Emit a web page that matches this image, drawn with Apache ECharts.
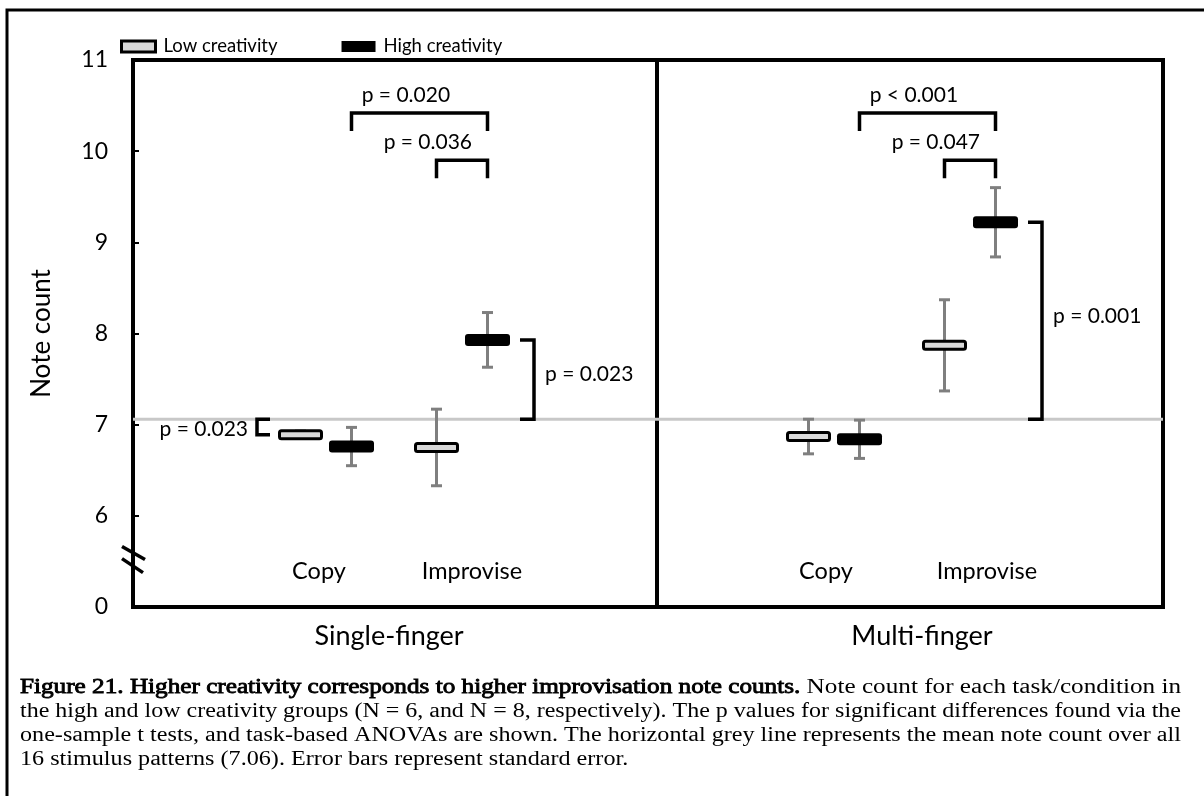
<!DOCTYPE html>
<html>
<head>
<meta charset="utf-8">
<script src="https://cdn.jsdelivr.net/npm/echarts@6/dist/echarts.min.js"></script>
<style>
  html, body { margin: 0; padding: 0; background: #fff; }
  #chart { width: 1204px; height: 796px; }
</style>
</head>
<body>
<div id="chart"></div>
<script>
// ---- data ----
const panels = ['Single-finger', 'Multi-finger'];
const conditions = ['Copy', 'Improvise'];
const groups = ['Low creativity', 'High creativity'];

const singleLowMean = [6.89, 6.75];
const singleLowSE = [0.04, 0.42];
const singleHighMean = [6.76, 7.93];
const singleHighSE = [0.21, 0.30];

const multiLowMean = [6.87, 7.87];
const multiLowSE = [0.19, 0.50];
const multiHighMean = [6.84, 9.22];
const multiHighSE = [0.21, 0.38];

const grandMean = 7.06;            // mean note count over all 16 stimulus patterns
const yTickLabels = ['0', '6', '7', '8', '9', '10', '11'];  // axis broken below 6

const singleTaskP = ['p = 0.020', 'p = 0.036'];
const multiTaskP = ['p < 0.001', 'p = 0.047'];
const singleOneSampleP = ['p = 0.023', 'p = 0.023'];
const multiOneSampleP = ['p = 0.001'];

const captionLines = [
  ['Figure 21. Higher creativity corresponds to higher improvisation note counts.', ' Note count for each task/condition in'],
  ['', 'the high and low creativity groups (N = 6, and N = 8, respectively). The p values for significant differences found via the'],
  ['', 'one-sample t tests, and task-based ANOVAs are shown. The horizontal grey line represents the mean note count over all'],
  ['', '16 stimulus patterns (7.06). Error bars represent standard error.']
];

// ---- layout / style ----
const FONT = 'Lato';
const SERIF = 'Liberation Serif';
const PLOT_LEFT = 133, PLOT_TOP = 60, PLOT_H = 547;
const Y_MIN = 5, Y_MAX = 11;
const BREAK_AT = 5.52;                // where the axis-break marks sit
const GROUP_OFFSET = [-25.5, 25.5];   // low / high marker offset from condition centre (px)
const BRACKET_TOP = [10.42, 9.90];    // heights of the task-comparison brackets
const BRACKET_LEG = 18;               // px
const LABEL_AT = [0.4, -0.17];        // label position along each bracket

const chart = echarts.init(document.getElementById('chart'), null, { renderer: 'canvas' });

function markSeries(name, axisIdx, means, ses, groupIdx) {
  const isLow = groupIdx === 0;
  return {
    type: 'custom',
    name: name,
    xAxisIndex: axisIdx,
    yAxisIndex: axisIdx,
    z: 4,
    itemStyle: { color: isLow ? '#d9d9d9' : '#000' },
    data: means.map((m, i) => [i, m, ses[i]]),
    encode: { x: 0, y: 1 },
    renderItem: function (params, api) {
      const c = api.coord([api.value(0), api.value(1)]);
      const top = api.coord([api.value(0), api.value(1) + api.value(2)])[1];
      const bot = api.coord([api.value(0), api.value(1) - api.value(2)])[1];
      const x = c[0] + GROUP_OFFSET[groupIdx];
      const err = { stroke: '#7f7f7f', lineWidth: 3 };
      return {
        type: 'group',
        children: [
          { type: 'line', shape: { x1: x, y1: top, x2: x, y2: bot }, style: err },
          { type: 'line', shape: { x1: x - 5.5, y1: top, x2: x + 5.5, y2: top }, style: err },
          { type: 'line', shape: { x1: x - 5.5, y1: bot, x2: x + 5.5, y2: bot }, style: err },
          isLow
            ? { type: 'rect', shape: { x: x - 21, y: c[1] - 4, width: 42, height: 8, r: 2 },
                style: { fill: '#d9d9d9', stroke: '#000', lineWidth: 3 } }
            : { type: 'rect', shape: { x: x - 22.5, y: c[1] - 6, width: 45, height: 12, r: 3 },
                style: { fill: '#000' } }
        ]
      };
    }
  };
}

// bracket annotations for one panel
function annotationSeries(axisIdx, low, high, taskPairs, oneSample) {
  const means = [low, high];
  return {
    type: 'custom',
    xAxisIndex: axisIdx,
    yAxisIndex: axisIdx,
    z: 5,
    silent: true,
    data: [[0, grandMean]],
    renderItem: function (params, api) {
      const kids = [];
      const line = { stroke: '#000', lineWidth: 3.5, fill: 'none' };
      const text = (x, y, s, align) => ({
        type: 'text', x: x, y: y,
        style: { text: s, fill: '#000', font: '21px ' + FONT, textAlign: align, textVerticalAlign: 'middle' }
      });
      const markX = (g, i) => api.coord([i, 0])[0] + GROUP_OFFSET[g];
      // task-based comparisons (horizontal brackets)
      taskPairs.forEach((p, k) => {
        const x1 = markX(p.from[0], p.from[1]);
        const x2 = markX(p.to[0], p.to[1]);
        const yT = api.coord([0, BRACKET_TOP[k]])[1];
        kids.push({ type: 'polyline', shape: { points: [[x1, yT + BRACKET_LEG], [x1, yT], [x2, yT], [x2, yT + BRACKET_LEG]] }, style: line });
        kids.push(text(x1 + (x2 - x1) * LABEL_AT[k], yT - 18, p.label, 'center'));
      });
      // one-sample comparisons against the grand mean (vertical brackets)
      const yRef = api.coord([0, grandMean])[1];
      oneSample.forEach(o => {
        const g = o.mark[0], i = o.mark[1];
        const yM = api.coord([i, means[g][i]])[1];
        const cx = markX(g, i);
        if (o.side === 'right') {
          const xa = cx + 22.5 + 10, xv = xa + 14;
          kids.push({ type: 'polyline', shape: { points: [[xa, yM], [xv, yM], [xv, yRef], [xa, yRef]] }, style: line });
          kids.push(text(xv + 11, (yM + yRef) / 2 - 5, o.label, 'left'));
        } else {
          const xa = cx - 22.5 - 8, xv = xa - 13;
          kids.push({ type: 'polyline', shape: { points: [[xa, yRef], [xv, yRef], [xv, yM], [xa, yM]] }, style: line });
          kids.push(text(xv - 9, (yM + yRef) / 2 + 2, o.label, 'right'));
        }
      });
      return { type: 'group', children: kids };
    }
  };
}

// grey reference line spanning a whole panel; the first panel also carries the axis-break marks
function referenceLine(axisIdx, withBreak) {
  return {
    type: 'custom',
    xAxisIndex: axisIdx,
    yAxisIndex: axisIdx,
    z: 2,
    silent: true,
    clip: false,
    data: [[0, grandMean]],
    renderItem: function (params, api) {
      const cs = params.coordSys;
      const y = api.coord([0, api.value(1)])[1];
      const kids = [{ type: 'line', shape: { x1: cs.x, y1: y, x2: cs.x + cs.width, y2: y },
                      style: { stroke: '#c8c8c8', lineWidth: 3 } }];
      if (withBreak) {
        const yb = api.coord([0, BREAK_AT])[1];
        const brk = { stroke: '#000', lineWidth: 3.5 };
        kids.push({ type: 'line', z2: 20, shape: { x1: cs.x - 11, y1: yb - 13, x2: cs.x + 12, y2: yb }, style: brk });
        kids.push({ type: 'line', z2: 20, shape: { x1: cs.x - 11, y1: yb - 1, x2: cs.x + 10, y2: yb + 13 }, style: brk });
      }
      return { type: 'group', children: kids };
    }
  };
}

const hiddenY = i => ({ gridIndex: i, type: 'value', min: Y_MIN, max: Y_MAX, show: false });

// caption: lines stretched to a common measure (justified), the last one left natural
const CAP_SIZE = 20, CAP_WIDTH = 1161, CAP_X = 20;
const capFont = CAP_SIZE + 'px "' + SERIF + '"';
const measureCtx = document.createElement('canvas').getContext('2d');
function measure(s) { measureCtx.font = capFont; return s ? measureCtx.measureText(s).width : 0; }
const capBoldW = captionLines.map(ln => measure(ln[0]));
const capScales = captionLines.map((ln, k) => CAP_WIDTH / (capBoldW[k] + measure(ln[1])));
capScales[capScales.length - 1] = capScales[capScales.length - 2];

const captionGraphics = [];
captionLines.forEach((ln, k) => {
  const y = 688 + k * 24;
  if (ln[0]) {
    // emboldened run of the caption
    captionGraphics.push({
      type: 'text', id: 'capB' + k, x: CAP_X, y: y, scaleX: capScales[k],
      style: { text: ln[0], font: capFont, fill: '#000', stroke: '#000', lineWidth: 0.8, textVerticalAlign: 'middle' }
    });
  }
  captionGraphics.push({
    type: 'text', id: 'capN' + k, x: CAP_X + capBoldW[k] * capScales[k], y: y, scaleX: capScales[k],
    style: { text: ln[1], font: capFont, fill: '#000', textVerticalAlign: 'middle' }
  });
});

const catLabelStyle = (shiftCopy, shiftImp) => ({
  inside: true, interval: 0, fontSize: 23.5, margin: 24, color: '#000', fontFamily: FONT,
  formatter: v => (v === conditions[0] ? '{a|' : '{b|') + v + '}',
  rich: {
    a: { fontSize: 23.5, fontFamily: FONT, color: '#000', padding: [0, shiftCopy * 2, 0, 0] },
    b: { fontSize: 23.5, fontFamily: FONT, color: '#000', padding: [0, 0, 0, shiftImp * 2] }
  }
});

const option = {
  backgroundColor: '#fff',
  animation: false,
  textStyle: { fontFamily: FONT, color: '#000' },
  legend: {
    left: 120, top: 37, padding: 0,
    itemWidth: 34, itemHeight: 11, itemGap: 64,
    selectedMode: false,
    textStyle: { fontFamily: FONT, fontSize: 18.5, color: '#000', padding: [0, 0, 0, 3] },
    data: [
      { name: groups[0], icon: 'rect', itemStyle: { color: '#d9d9d9', borderColor: '#000', borderWidth: 3 } },
      { name: groups[1], icon: 'rect', itemStyle: { color: '#000', borderWidth: 0 } }
    ]
  },
  grid: [
    { left: PLOT_LEFT, width: 524, top: PLOT_TOP, height: PLOT_H, show: true, borderColor: '#000', borderWidth: 4, backgroundColor: 'transparent' },
    { left: 657, width: 506, top: PLOT_TOP, height: PLOT_H, show: true, borderColor: '#000', borderWidth: 4, backgroundColor: 'transparent' },
    { left: 258, width: 272, top: PLOT_TOP, height: PLOT_H },
    { left: 766, width: 272, top: PLOT_TOP, height: PLOT_H }
  ],
  xAxis: [
    { gridIndex: 0, type: 'category', data: [panels[0]], axisLine: { show: false }, axisTick: { show: false },
      axisLabel: { fontSize: 27, margin: 16, color: '#000', fontFamily: FONT, padding: [0, 12, 0, 0] } },
    { gridIndex: 1, type: 'category', data: [panels[1]], axisLine: { show: false }, axisTick: { show: false },
      axisLabel: { fontSize: 27, margin: 16, color: '#000', fontFamily: FONT, padding: [0, 0, 0, 24] } },
    { gridIndex: 2, type: 'category', data: conditions, axisLine: { show: false }, axisTick: { show: false },
      axisLabel: catLabelStyle(7, 10) },
    { gridIndex: 3, type: 'category', data: conditions, axisLine: { show: false }, axisTick: { show: false },
      axisLabel: catLabelStyle(8, 17) }
  ],
  yAxis: [
    { gridIndex: 0, type: 'value', min: Y_MIN, max: Y_MAX, interval: 1,
      name: 'Note count', nameLocation: 'middle', nameGap: 78,
      nameTextStyle: { fontSize: 26, color: '#000', fontFamily: FONT },
      axisLine: { show: false },
      axisTick: { show: true, inside: true, length: 6, lineStyle: { color: '#000', width: 2 } },
      axisLabel: { fontSize: 23, margin: 25, color: '#000', fontFamily: FONT,
                   formatter: v => yTickLabels[v - Y_MIN] },
      splitLine: { show: false } },
    hiddenY(1), hiddenY(2), hiddenY(3)
  ],
  series: [
    referenceLine(0, true),
    referenceLine(1, false),
    markSeries(groups[0], 2, singleLowMean, singleLowSE, 0),
    markSeries(groups[1], 2, singleHighMean, singleHighSE, 1),
    markSeries(groups[0], 3, multiLowMean, multiLowSE, 0),
    markSeries(groups[1], 3, multiHighMean, multiHighSE, 1),
    annotationSeries(2, singleLowMean, singleHighMean,
      [ { label: singleTaskP[0], from: [1, 0], to: [1, 1] },
        { label: singleTaskP[1], from: [0, 1], to: [1, 1] } ],
      [ { label: singleOneSampleP[0], mark: [0, 0], side: 'left' },
        { label: singleOneSampleP[1], mark: [1, 1], side: 'right' } ]),
    annotationSeries(3, multiLowMean, multiHighMean,
      [ { label: multiTaskP[0], from: [1, 0], to: [1, 1] },
        { label: multiTaskP[1], from: [0, 1], to: [1, 1] } ],
      [ { label: multiOneSampleP[0], mark: [1, 1], side: 'right' } ])
  ],
  graphic: [
    // outer figure frame
    { type: 'rect', id: 'frame', shape: { x: 7, y: 10, width: 1260, height: 860 },
      style: { fill: 'none', stroke: '#000', lineWidth: 3 }, z: 10 }
  ].concat(captionGraphics)
};

chart.setOption(option);
</script>
</body>
</html>
